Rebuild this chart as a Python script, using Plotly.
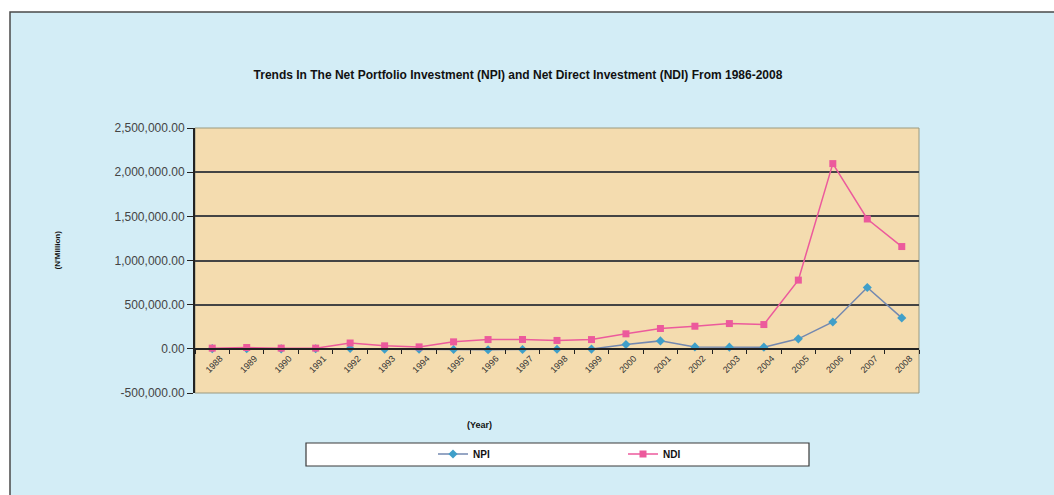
import plotly.graph_objects as go

years = [str(y) for y in range(1988, 2009)]
npi = [2000, 1000, 0, 1000, 3000, -5000, -5000, -8000, -10000, -8000, -5000, -3000,
       49000, 90000, 22000, 19000, 19000, 113000, 304000, 695000, 350000]
ndi = [8000, 15000, 8000, 8000, 66000, 34000, 22000, 79000, 105000, 106000, 95000, 105000,
       170000, 230000, 256000, 286000, 275000, 778000, 2097000, 1470000, 1158000]
y_ticks = [-500000, 0, 500000, 1000000, 1500000, 2000000, 2500000]
y_tick_labels = ["-500,000.00", "0.00", "500,000.00", "1,000,000.00",
                 "1,500,000.00", "2,000,000.00", "2,500,000.00"]

FONT = "Arial, Liberation Sans, sans-serif"
L, R, T, B = 195, 135, 128, 102
W, H = 1054, 495
pw, ph = W - L - R, H - T - B

def px(x):
    return (x - L) / pw

def py(y):
    return (H - B - y) / ph

fig = go.Figure()
fig.add_trace(go.Scatter(
    x=years, y=npi, name="NPI", mode="lines+markers",
    line=dict(color="#7388b0", width=1.5),
    marker=dict(symbol="diamond", size=7, color="#3f9fc9"),
))
fig.add_trace(go.Scatter(
    x=years, y=ndi, name="NDI", mode="lines+markers",
    line=dict(color="#ec5a9c", width=1.5),
    marker=dict(symbol="square", size=7, color="#ec5a9c"),
))

shapes = [
    dict(type="rect", xref="paper", yref="paper", x0=px(10), x1=px(1100), y0=py(520), y1=py(12),
         fillcolor="#d3edf6", line=dict(color="#4a4a4a", width=1.5), layer="below"),
    dict(type="rect", xref="paper", yref="paper", x0=0, x1=1, y0=0, y1=1,
         fillcolor="#f4dcaf", line=dict(color="#9a9a80", width=1), layer="below"),
    dict(type="rect", xref="paper", yref="paper", x0=px(306), x1=px(809), y0=py(466), y1=py(443),
         fillcolor="#ffffff", line=dict(color="#3a3a3a", width=1.2), layer="below"),
]

fig.update_layout(
    width=W, height=H,
    margin=dict(l=L, r=R, t=T, b=B),
    paper_bgcolor="#ffffff",
    plot_bgcolor="rgba(0,0,0,0)",
    shapes=shapes,
    title=dict(
        text="Trends In The Net Portfolio Investment (NPI) and Net Direct Investment (NDI) From 1986-2008",
        xref="container", x=518 / W, xanchor="center",
        yref="container", y=1 - 75 / H, yanchor="middle",
        font=dict(family=FONT, size=12, color="#111111", weight="bold"),
    ),
    xaxis=dict(
        type="category", anchor="free", position=1 / 6,
        showgrid=False, showline=True, linecolor="#222222", linewidth=2,
        ticks="outside", ticklen=4, tickcolor="#222222", tickson="boundaries",
        tickangle=-45, ticklabelshift=8,
        tickfont=dict(family=FONT, size=9, color="#333333"),
        range=[-0.5, 20.5],
    ),
    yaxis=dict(
        range=[-500000, 2500000], tickvals=y_ticks, ticktext=y_tick_labels,
        showgrid=True, gridcolor="#444444", gridwidth=1.5,
        showline=True, linecolor="#222222", linewidth=2,
        ticks="outside", ticklen=6, tickcolor="#222222",
        tickfont=dict(family=FONT, size=12, color="#444444"),
        zeroline=False,
    ),
    legend=dict(
        orientation="h", x=px(433), xanchor="left", y=py(454), yanchor="middle",
        bgcolor="rgba(0,0,0,0)", borderwidth=0, entrywidth=145,
        font=dict(family=FONT, size=10, color="#111111", weight="bold"),
    ),
    annotations=[
        dict(text="(Year)", xref="paper", yref="paper", x=px(479), y=py(432),
             showarrow=False, font=dict(family=FONT, size=9, color="#111111", weight="bold")),
        dict(text="(N'Million)", xref="paper", yref="paper", x=px(50), y=py(250),
             textangle=-90, showarrow=False,
             font=dict(family=FONT, size=8, color="#111111", weight="bold")),
    ],
    showlegend=True,
)

fig.write_html("out.html")
